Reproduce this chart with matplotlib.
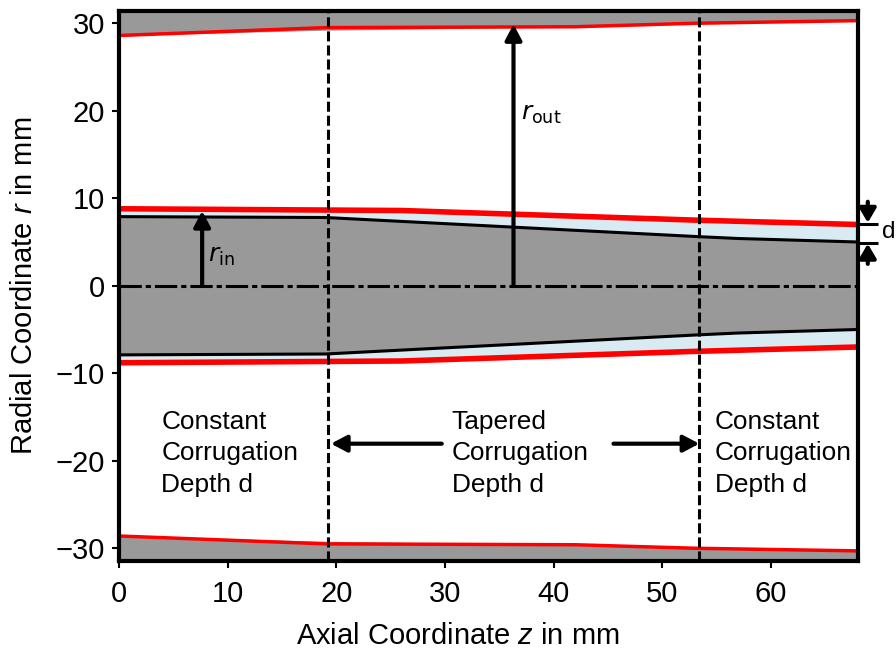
import matplotlib
matplotlib.use("Agg")
import matplotlib.pyplot as plt

plt.rcParams["font.family"] = ["Liberation Sans", "DejaVu Sans"]
plt.rcParams["mathtext.fontset"] = "custom"
plt.rcParams["mathtext.rm"] = "Liberation Sans"
plt.rcParams["mathtext.it"] = "Liberation Sans:italic"

# Wall profiles
z_rod = [0, 19, 53.5, 57, 68]
r_rod = [7.9, 7.8, 5.6, 5.4, 5.0]
z_inner = [0, 26, 53, 68]
r_inner = [8.8, 8.6, 7.5, 7.0]
z_outer = [0, 19, 42, 53, 68]
r_outer = [28.6, 29.5, 29.6, 30.0, 30.3]
z_outer_fill = [0, 19, 36, 68]
r_outer_fill = [28.6, 29.2, 29.5, 30.3]
z_limits = [19.2, 53.4]
x_ticks = [0, 10, 20, 30, 40, 50, 60]
y_ticks = [-30, -20, -10, 0, 10, 20, 30]
y_labels = ["\u221230", "\u221220", "\u221210", "0", "10", "20", "30"]

z_max = 68
r_max = 31.4
grey = "#999999"
light = "#d8eaf2"

fig = plt.figure(figsize=(8.96, 6.52), dpi=100)
ax = fig.add_axes([119 / 896, 1 - 560.5 / 652, 739 / 896, 549.5 / 652])

# Fills
ax.fill_between(z_inner, r_inner, [-r for r in r_inner], color=light, lw=0, zorder=1)
ax.fill_between(z_rod, r_rod, [-r for r in r_rod], color=grey, lw=0, zorder=2)
ax.fill_between(z_outer_fill, r_outer_fill, r_max, color=grey, lw=0, zorder=1)
ax.fill_between(z_outer_fill, [-r for r in r_outer_fill], -r_max, color=grey, lw=0, zorder=1)

# Walls
ax.plot(z_rod, r_rod, color="black", lw=2.2, zorder=3)
ax.plot(z_rod, [-r for r in r_rod], color="black", lw=2.2, zorder=3)
ax.plot(z_inner, r_inner, color="red", lw=4, zorder=3)
ax.plot(z_inner, [-r for r in r_inner], color="red", lw=4, zorder=3)
ax.plot(z_outer, r_outer, color="red", lw=2.5, zorder=3)
ax.plot(z_outer, [-r for r in r_outer], color="red", lw=2.5, zorder=3)

# Section limits and axis of symmetry
for z in z_limits:
    ax.axvline(z, color="black", lw=2.2, ls=(0, (3.3, 1.3)), zorder=4)
ax.plot([0, z_max], [0, 0], color="black", lw=2.2, ls=(0, (7.3, 1.3, 1.7, 1.3)), zorder=4)

arrow = dict(arrowstyle="-|>,head_length=0.95,head_width=0.5", color="black", lw=3,
             shrinkA=0, shrinkB=0, mutation_scale=10)
ax.annotate("", xy=(7.65, 8.55), xytext=(7.65, 0), arrowprops=arrow, zorder=5)
ax.annotate("", xy=(36.3, 29.9), xytext=(36.3, 0), arrowprops=arrow, zorder=5)
ax.text(8.2, 3.4, r"$r_{\mathrm{in}}$", fontsize=18, va="center", math_fontfamily="dejavusans")
ax.text(37.0, 19.6, r"$r_{\mathrm{out}}$", fontsize=18, va="center", math_fontfamily="dejavusans")

# Corrugation depth marker outside the axes
small_arrow = dict(arrow, arrowstyle="-|>,head_length=0.85,head_width=0.5")
ax.annotate("", xy=(68.9, 7.2), xytext=(68.9, 9.6), arrowprops=small_arrow, annotation_clip=False)
ax.annotate("", xy=(68.9, 4.8), xytext=(68.9, 2.5), arrowprops=small_arrow, annotation_clip=False)
ax.plot([68, 69.85], [7.1, 7.1], color="black", lw=2.2, clip_on=False, solid_capstyle="butt")
ax.plot([68, 69.85], [4.9, 4.9], color="black", lw=2.2, clip_on=False, solid_capstyle="butt")
ax.text(70.2, 6.1, "d", fontsize=17.5, va="center", ha="left")

# Section labels
ax.text(3.9, -19.15, "Constant\nCorrugation\nDepth d", fontsize=18.9, va="center", linespacing=1.4)
ax.text(30.6, -19.15, "Tapered\nCorrugation\nDepth d", fontsize=18.9, va="center", linespacing=1.4)
ax.text(54.8, -19.15, "Constant\nCorrugation\nDepth d", fontsize=18.9, va="center", linespacing=1.4)
ax.annotate("", xy=(19.5, -18.05), xytext=(29.7, -18.05), arrowprops=arrow, zorder=5)
ax.annotate("", xy=(53.4, -18.05), xytext=(45.5, -18.05), arrowprops=arrow, zorder=5)

ax.set_xlim(0, z_max)
ax.set_ylim(-r_max, r_max)
ax.set_xticks(x_ticks)
ax.set_yticks(y_ticks)
ax.set_yticklabels(y_labels)
ax.tick_params(labelsize=21, width=1.5, length=5)
ax.tick_params(axis="x", pad=9)
ax.tick_params(axis="y", pad=5)
for spine in ax.spines.values():
    spine.set_linewidth(3)
    spine.set_zorder(6)
ax.set_xlabel(r"Axial Coordinate $\mathit{z}$ in mm", fontsize=21, labelpad=10, x=0.459)
ax.set_ylabel(r"Radial Coordinate $\mathit{r}$ in mm", fontsize=21, labelpad=13)

fig.savefig("out.png", dpi=100)
